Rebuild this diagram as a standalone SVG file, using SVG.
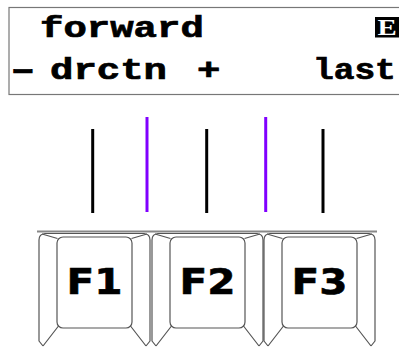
<svg xmlns="http://www.w3.org/2000/svg" width="399" height="347" viewBox="0 0 399 347">
<style>
.lcd{font-family:"Liberation Mono","Courier New",monospace;font-weight:bold;font-size:30px;fill:#000;stroke:#000;stroke-width:0.7}
.tick{stroke-width:3;fill:none}
.blk{stroke:#000}
.pur{stroke:#8000ff}
.key{fill:#fff;stroke:#555;stroke-width:1.2;stroke-linejoin:round}
.kl{fill:none;stroke:#555;stroke-width:1.2}
.lab{font-family:"DejaVu Sans",Verdana,sans-serif;font-weight:bold;font-size:36px;fill:#000;stroke:#000;stroke-width:0.6;text-anchor:middle}
</style>
<defs>
<g id="keyshape">
<path class="key" d="M4,113 L0,108 L0,7 Q0,1 6,0.5 L105,0.5 Q111,1 111,7 L111,108 L107,113"/>
<rect class="key" x="18" y="4" width="75" height="91" rx="6"/>
<path class="kl" d="M3,1 L18.5,5.5 M108,1 L92.5,5.5 M19.5,93 L4,113 M91.5,93 L107,113"/>
</g>
</defs>
<g id="lcd">
<rect x="9" y="7.5" width="400" height="87" fill="#fff" stroke="#777" stroke-width="1.2"/>
<text class="lcd" transform="translate(40,37) scale(1.3,1)">forward</text>
<rect x="375" y="17" width="30" height="20.5" fill="#000"/>
<text transform="translate(377.5,35) scale(1.2,1)" font-family="Liberation Serif,serif" font-weight="bold" font-size="24" fill="#fff">E</text>
<text class="lcd" transform="translate(4,79) scale(2.1,1)">-</text>
<text class="lcd" transform="translate(50,79) scale(1.3,1)">drctn</text>
<text class="lcd" transform="translate(197,79) scale(1.3,1)">+</text>
<text class="lcd" transform="translate(313,79) scale(1.15,1)">last</text>
</g>
<g id="connectors">
<line class="tick blk" x1="92.7" y1="129" x2="92.7" y2="213"/>
<line class="tick pur" x1="147" y1="117" x2="147" y2="212"/>
<line class="tick blk" x1="206.7" y1="129" x2="206.7" y2="213"/>
<line class="tick pur" x1="265.7" y1="117" x2="265.7" y2="212"/>
<line class="tick blk" x1="323" y1="129" x2="323" y2="213"/>
</g>
<g id="keyboard-top">
<line x1="37" y1="231.5" x2="377" y2="231.5" stroke="#888" stroke-width="2"/>
</g>
<g id="key-f1">
<use href="#keyshape" transform="translate(39,233)"/>
<text class="lab" x="94.5" y="294" textLength="56" lengthAdjust="spacingAndGlyphs">F1</text>
</g>
<g id="key-f2">
<use href="#keyshape" transform="translate(152,233)"/>
<text class="lab" x="207.5" y="294" textLength="56" lengthAdjust="spacingAndGlyphs">F2</text>
</g>
<g id="key-f3">
<use href="#keyshape" transform="translate(264,233)"/>
<text class="lab" x="319.5" y="294" textLength="56" lengthAdjust="spacingAndGlyphs">F3</text>
</g>
</svg>
